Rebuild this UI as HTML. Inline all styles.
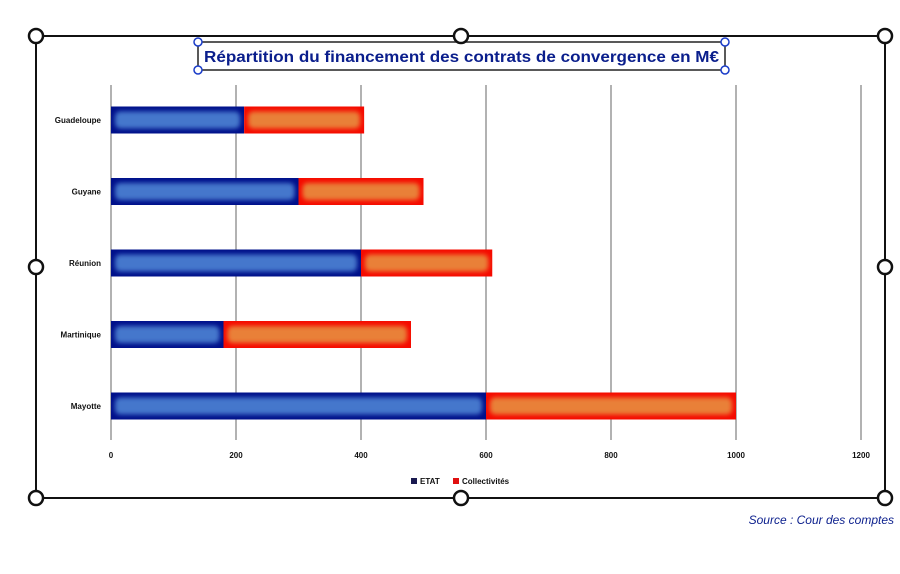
<!DOCTYPE html>
<html><head><meta charset="utf-8"><style>
html,body{margin:0;padding:0;background:#fff;}
svg{display:block;font-family:"Liberation Sans",sans-serif;}
</style></head><body>
<svg width="900" height="574" viewBox="0 0 900 574">
<defs>
<filter id="blur" x="-10%" y="-50%" width="120%" height="200%"><feGaussianBlur stdDeviation="2.5"/></filter>
</defs>
<rect x="36" y="36" width="849" height="462" fill="none" stroke="#111" stroke-width="2"/>
<rect x="198" y="42" width="527" height="28" fill="#fff" stroke="#222" stroke-width="1.5"/>
<text x="461.5" y="62" text-anchor="middle" font-size="16" font-weight="bold" fill="#0a1e8c" textLength="515" lengthAdjust="spacingAndGlyphs">Répartition du financement des contrats de convergence en M€</text>
<g id="grid"></g>
<g id="bars"></g>
<g id="labels"></g>
<g id="ticks"></g>
<g>
<rect x="411" y="478" width="6" height="6" fill="#1a1a50"/>
<text x="420" y="484" font-size="8" font-weight="bold" fill="#111">ETAT</text>
<rect x="453" y="478" width="6" height="6" fill="#e01010"/>
<text x="462" y="484" font-size="8" font-weight="bold" fill="#111">Collectivités</text>
</g>
<g id="handles"></g>
<text x="894" y="524" text-anchor="end" font-size="12" font-style="italic" fill="#0a1e8c">Source : Cour des comptes</text>
</svg>
<script>
const categories = ["Guadeloupe","Guyane","Réunion","Martinique","Mayotte"];
const etat = [213, 300, 400, 180, 600];
const collectivites = [192, 200, 210, 300, 400];
const ticks = [0, 200, 400, 600, 800, 1000, 1200];
const tickLabels = ["0","200","400","600","800","1000","1200"];

const NS = "http://www.w3.org/2000/svg";
const x = v => 111 + v * 0.625;
const yC = i => 120 + i * 71.5;
const barH = 27;
function mk(tag, attrs, parent){ const e=document.createElementNS(NS,tag); for(const k in attrs) e.setAttribute(k,attrs[k]); parent.appendChild(e); return e; }

const grid = document.getElementById('grid');
ticks.forEach((t,i)=>{
  const l = mk('line',{x1:x(t),x2:x(t),y1:85,y2:440,stroke:'#666','stroke-width':1},grid);
  
  
  const tx = mk('text',{x:x(t),y:458,'text-anchor':'middle','font-size':8,'font-weight':'bold',fill:'#111'},document.getElementById('ticks'));
  tx.textContent = tickLabels[i];
  
  
});

const bars = document.getElementById('bars');
function seg(x0, x1, yc, dark, light, name){
  const g = mk('g',{},bars);
  
  
  mk('rect',{x:x0,y:yc-barH/2,width:x1-x0,height:barH,fill:dark},g);
  mk('rect',{x:x0+4,y:yc-barH/2+5,width:Math.max(0,x1-x0-8),height:barH-10,rx:5,fill:light,filter:'url(#blur)'},g);
}
categories.forEach((c,i)=>{
  const yc = yC(i);
  seg(x(0), x(etat[i]), yc, '#00108a', '#4577cc', 'bar-etat-'+i);
  seg(x(etat[i]), x(etat[i]+collectivites[i]), yc, '#f50a00', '#e98038', 'bar-collectivites-'+i);
  const t = mk('text',{x:101,y:yc+3,'text-anchor':'end','font-size':8,'font-weight':'bold',fill:'#111'},document.getElementById('labels'));
  t.textContent = c;
  
  
});

const h = document.getElementById('handles');
[[36,36],[461,36],[885,36],[36,267],[885,267],[36,498],[461,498],[885,498]].forEach((p,i)=>{
  const c = mk('circle',{cx:p[0],cy:p[1],r:7,fill:'#fff',stroke:'#111','stroke-width':2.5},h);
  
  
});
[[198,42],[725,42],[198,70],[725,70]].forEach((p,i)=>{
  const c = mk('circle',{cx:p[0],cy:p[1],r:4,fill:'#fff',stroke:'#1a3cc8','stroke-width':1.5},h);
  
  
});
</script>
</body></html>
